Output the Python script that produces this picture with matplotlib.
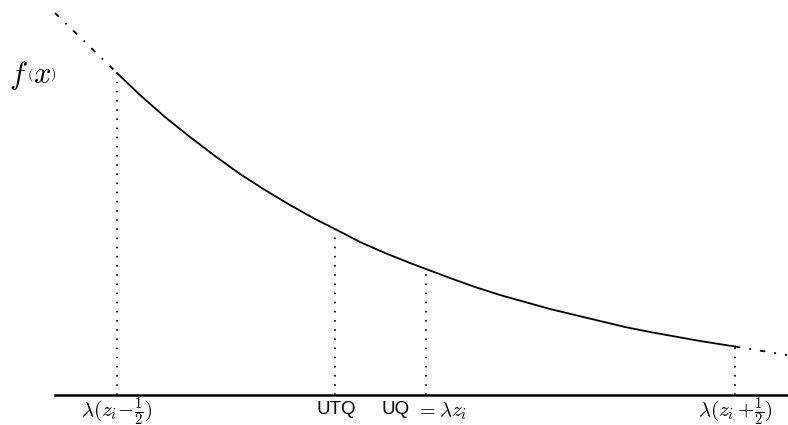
import matplotlib
matplotlib.use('Agg')
import matplotlib.pyplot as plt

plt.rcParams['font.family'] = ['Liberation Sans', 'DejaVu Sans']
plt.rcParams['mathtext.fontset'] = 'cm'

# curve f(x) (x in px, height above the axis in px)
curve_x = [117, 140, 165, 190, 215, 240, 265, 290, 315, 335, 360, 385, 410,
           426, 450, 475, 500, 525, 550, 575, 600, 625, 650, 675, 700, 735]
curve_h = [322, 300, 278, 258, 239, 221, 205, 190, 176, 166, 153, 142, 132,
           126, 117, 108, 100, 93, 86, 80, 74, 68, 63, 58.5, 54, 48.5]

# dash-dot continuation on both ends
left_x, left_h = [55, 117], [382, 322]
right_x, right_h = [735, 787], [48.5, 40]

# marked positions on the axis and the curve height there
mark_x = [117, 335, 426, 735]
mark_h = [322, 166, 126, 48.5]

fig = plt.figure(figsize=(7.88, 4.25), dpi=100)
ax = fig.add_axes([0, 0, 1, 1])
ax.set_xlim(0, 788)
ax.set_ylim(-30, 395)
ax.axis('off')

ax.plot(curve_x, curve_h, color='black', lw=1.3)
ax.plot(left_x, left_h, color='black', lw=1.3, linestyle=(0, (3, 5, 1, 5)))
ax.plot(right_x, right_h, color='black', lw=1.3, linestyle=(0, (3, 5, 1, 5)))

for x, h in zip(mark_x, mark_h):
    ax.plot([x, x], [0, h], color='black', lw=1.2, linestyle=(0, (1, 4.5)))

# x axis
ax.plot([55, 788], [0, 0], color='black', lw=1.8)

ax.text(117, -17, r'$\lambda(z_i\!-\!\frac{1}{2})$', fontsize=15, ha='center', va='center')
ax.text(336, -15, 'UTQ', fontsize=13.5, ha='center', va='center')
ax.text(382, -15, 'UQ', fontsize=13.5, ha='left', va='center')
ax.text(416, -16, r'$=$', fontsize=14, ha='left', va='center')
ax.text(439, -16, r'$\lambda z_i$', fontsize=15, ha='left', va='center')
ax.text(735, -17, r'$\lambda(z_i+\!\frac{1}{2})$', fontsize=15, ha='center', va='center')

# f(x) label with small brackets
ax.text(9, 320, r'$f$', fontsize=22, ha='left', va='center')
ax.text(27.5, 320, r'$($', fontsize=10, ha='left', va='center')
ax.text(33, 320, r'$x$', fontsize=22, ha='left', va='center')
ax.text(50, 320, r'$)$', fontsize=10, ha='left', va='center')

fig.savefig('out.png', dpi=100)
